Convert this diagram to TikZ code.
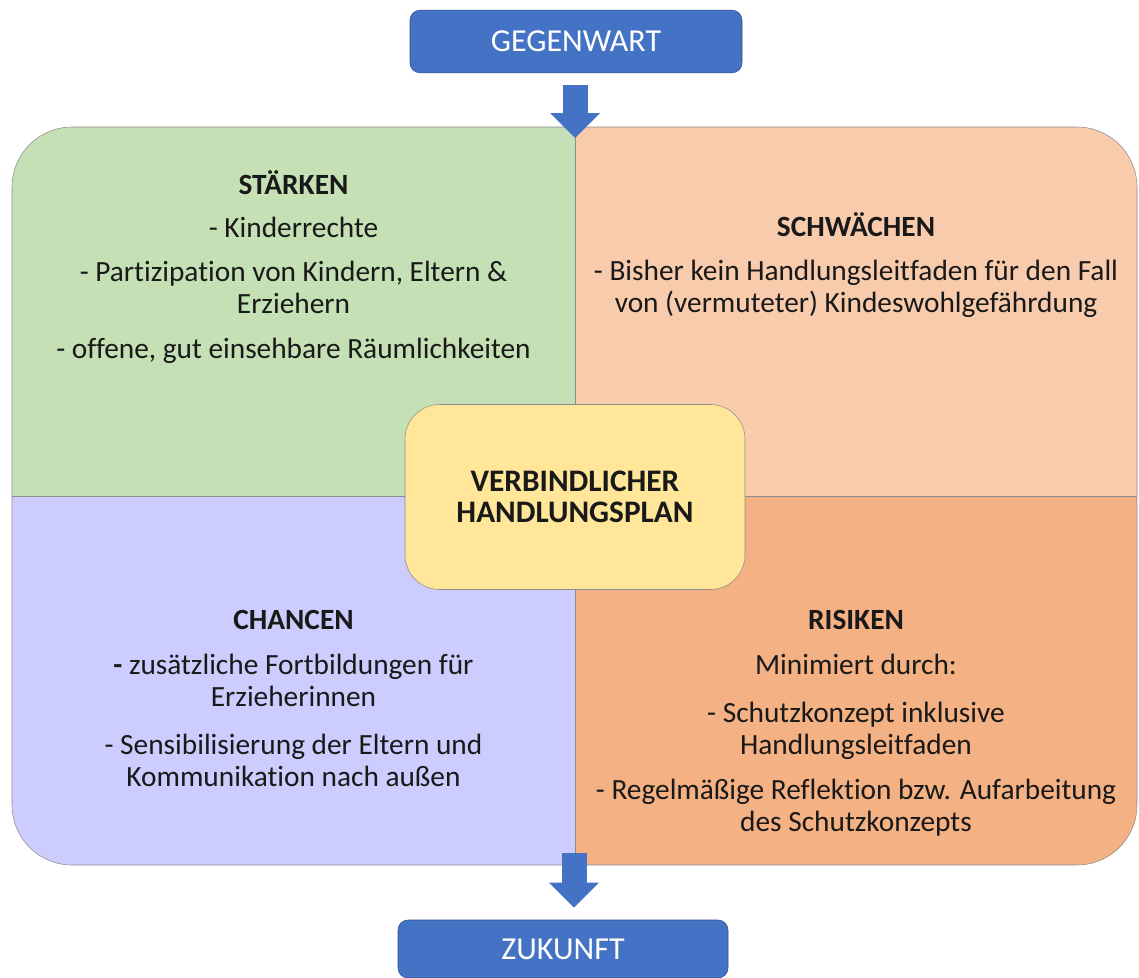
\documentclass[tikz,border=0pt]{standalone}
\usepackage{fontspec}
\setmainfont[Ligatures=NoCommon]{Carlito}
\usetikzlibrary{arrows.meta}
\definecolor{zeitblau}{HTML}{4472C4}
\definecolor{zeitrand}{HTML}{2F528F}
\definecolor{staerken}{HTML}{C5E0B4}
\definecolor{schwaechen}{HTML}{F8CBAD}
\definecolor{chancen}{HTML}{CCCCFF}
\definecolor{risiken}{HTML}{F4B183}
\definecolor{plangelb}{HTML}{FFE699}
\definecolor{rand}{HTML}{8C8C8C}

\begin{document}
\begin{tikzpicture}[x=0.75pt,y=-0.75pt,
	zeitbox/.style={fill=zeitblau,draw=zeitrand,rounded corners=7.5pt,text=white,
		font=\fontsize{24}{28}\selectfont,minimum height=47pt},
	feldtext/.style={align=center,anchor=north,inner sep=0pt,text=black!90,
		font=\fontsize{22}{24}\selectfont},
	planbox/.style={fill=plangelb,draw=rand,rounded corners=26pt,align=center,
		minimum width=255pt,minimum height=138.75pt,text=black!90,
		font=\bfseries\fontsize{23.5}{23.25}\selectfont},
	pfeil/.style={zeitblau,line width=18.75pt,
		-{Triangle[length=18.75pt,width=37.5pt,line width=0pt]}}]
	\useasboundingbox (0,0) rectangle (1139,978);

	\begin{scope}
		\clip[rounded corners=45pt] (12,127) rectangle (1137,865);
		\fill[staerken] (12,127) rectangle (575,496);
		\fill[schwaechen] (575,127) rectangle (1137,496);
		\fill[chancen] (12,496) rectangle (575,865);
		\fill[risiken] (575,496) rectangle (1137,865);
	\end{scope}
	\draw[rand,rounded corners=45pt] (12,127) rectangle (1137,865);
	\coordinate (qn) at (575,127);
	\coordinate (qs) at (574,865);
	\draw[rand] (qn) -- (575,865);
	\draw[rand] (12,496) -- (1137,496);

	\node[zeitbox,minimum width=249pt] (gw) at (576,41.5) {GEGENWART};
	\node[zeitbox,minimum width=247.5pt,minimum height=43.5pt] (zk) at (563,949) {ZUKUNFT};

	\draw[pfeil] ([yshift=-9pt]gw.south -| qn) -- ([yshift=-8.25pt]qn);
	\draw[pfeil] ([yshift=9pt]qs) -- ([yshift=9pt]qs |- zk.north);

	\node[feldtext] (st) at (293.5,170.6) {\strut\textbf{STÄRKEN}\\[8pt]
		- Kinderrechte\\[9pt]
		- Partizipation von Kindern, Eltern \&\\
		Erziehern\\[10pt]
		- offene, gut einsehbare Räumlichkeiten};
	\node[feldtext] (sw) at (856,212.6) {\strut\textbf{SCHWÄCHEN}\\[9pt]
		- Bisher kein Handlungsleitfaden für den Fall\\
		von (vermuteter) Kindeswohlgefährdung};
	\node[feldtext] (ch) at (293.5,606.6) {\strut\textbf{CHANCEN}\\[10pt]
		\textbf{-} zusätzliche Fortbildungen für\\
		Erzieherinnen\\[12pt]
		- Sensibilisierung der Eltern und\\
		Kommunikation nach außen};
	\node[feldtext] (ri) at (856,606.6) {\strut\textbf{RISIKEN}\\[10pt]
		Minimiert durch:\\[12pt]
		- Schutzkonzept inklusive\\
		Handlungsleitfaden\\[10pt]
		- Regelmäßige Reflektion bzw. Aufarbeitung\\
		des Schutzkonzepts};

	\node[planbox] (vh) at (575,497) {VERBINDLICHER\\HANDLUNGSPLAN};
\end{tikzpicture}
\end{document}
